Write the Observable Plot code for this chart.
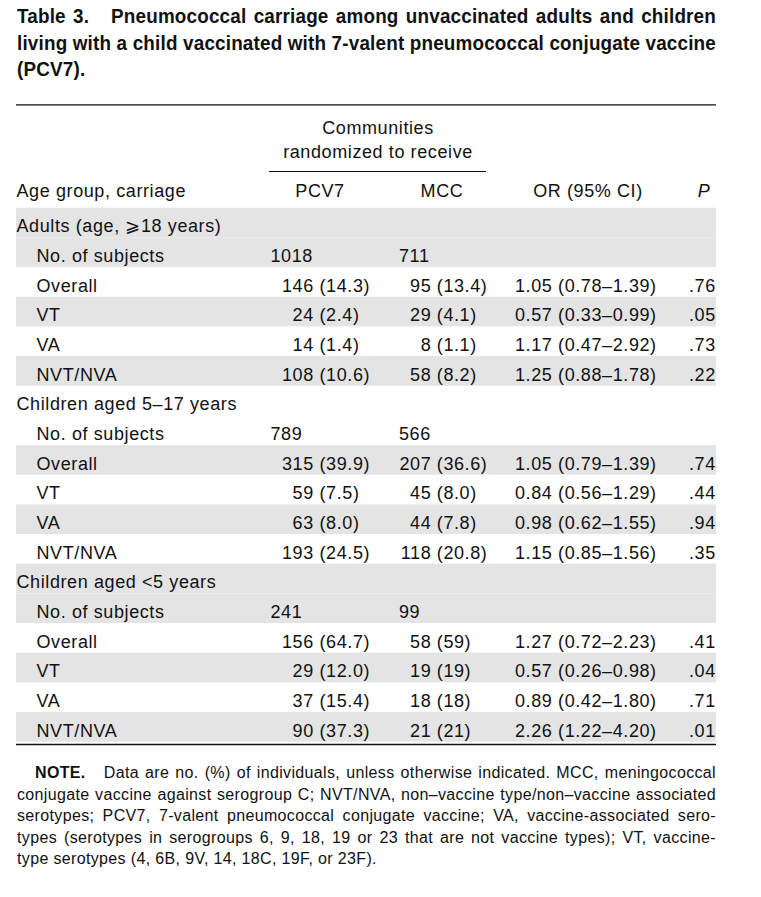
<!DOCTYPE html>
<html>
<head>
<meta charset="utf-8">
<script src="https://cdn.jsdelivr.net/npm/d3@7"></script>
<script src="https://cdn.jsdelivr.net/npm/@observablehq/plot@0.6"></script>
<style>
  html, body { margin: 0; padding: 0; background: #fff; }
  body { width: 761px; height: 897px; overflow: hidden; color: #111; }
  #title { box-sizing: border-box; height: 96px; padding: 3px 0 0 17px;
    font-family: "Liberation Sans", Arial, Helvetica, sans-serif;
    font-weight: bold; font-size: 20.5px; line-height: 26.5px; letter-spacing: 0.2px; }
  #title div { white-space: nowrap; transform-origin: 0 0; }
  #note div { width: 699px; white-space: nowrap; }
  .just { text-align: justify; text-align-last: justify; }
  #chart svg { display: block; }
  #note { box-sizing: border-box; padding: 10px 0 0 17px;
    font-family: "Liberation Sans", Arial, sans-serif; font-size: 16px; line-height: 21.5px; letter-spacing: 0.35px; }
  #note .first { text-indent: 18px; }
</style>
</head>
<body>
<div id="title">
  <div class="just"><span>Table 3.&nbsp;&nbsp; Pneumococcal carriage among unvaccinated adults and children</span></div>
  <div class="just"><span id="titleRef">living with a child vaccinated with 7-valent pneumococcal conjugate vaccine</span></div>
  <div><span>(PCV7).</span></div>
</div>
<div id="chart"></div>
<div id="note">
  <div class="just first"><b>NOTE.</b>&nbsp;&nbsp; Data are no. (%) of individuals, unless otherwise indicated. MCC, meningococcal</div>
  <div class="just">conjugate vaccine against serogroup C; NVT/NVA, non–vaccine type/non–vaccine associated</div>
  <div class="just">serotypes; PCV7, 7-valent pneumococcal conjugate vaccine; VA, vaccine-associated sero-</div>
  <div class="just">types (serotypes in serogroups 6, 9, 18, 19 or 23 that are not vaccine types); VT, vaccine-</div>
  <div>type serotypes (4, 6B, 9V, 14, 18C, 19F, or 23F).</div>
</div>
<script>
// ---------- data ----------
const ageGroups = ["Adults (age, ⩾18 years)", "Children aged 5–17 years", "Children aged <5 years"];
const subjectsPCV7 = [1018, 789, 241];
const subjectsMCC = [711, 566, 99];
const carriageTypes = ["Overall", "VT", "VA", "NVT/NVA"];
const pcv7Count = [146, 24, 14, 108, 315, 59, 63, 193, 156, 29, 37, 90];
const pcv7Pct = ["14.3", "2.4", "1.4", "10.6", "39.9", "7.5", "8.0", "24.5", "64.7", "12.0", "15.4", "37.3"];
const mccCount = [95, 29, 8, 58, 207, 45, 44, 118, 58, 19, 18, 21];
const mccPct = ["13.4", "4.1", "1.1", "8.2", "36.6", "8.0", "7.8", "20.8", "59", "19", "18", "21"];
const orEstimate = ["1.05", "0.57", "1.17", "1.25", "1.05", "0.84", "0.98", "1.15", "1.27", "0.57", "0.89", "2.26"];
const orLower = ["0.78", "0.33", "0.47", "0.88", "0.79", "0.56", "0.62", "0.85", "0.72", "0.26", "0.42", "1.22"];
const orUpper = ["1.39", "0.99", "2.92", "1.78", "1.39", "1.29", "1.55", "1.56", "2.23", "0.98", "1.80", "4.20"];
const pValue = [".76", ".05", ".73", ".22", ".74", ".44", ".94", ".35", ".41", ".04", ".71", ".01"];
const spannerLines = ["Communities", "randomized to receive"];
const columnHeaders = ["Age group, carriage", "PCV7", "MCC", "OR (95% CI)", "P"];

// ---------- title fitting: condense the bold title so it spans the table width ----------
(function fitTitle() {
  const target = 699;
  const w = document.getElementById("titleRef").getBoundingClientRect().width;
  const s = Math.min(1, target / w);
  document.querySelectorAll("#title > div").forEach(div => {
    div.style.width = (target / s) + "px";
    div.style.transform = `scaleX(${s})`;
  });
})();

// ---------- layout (pixels / row units) ----------
const col = { left: 16, right: 716, group: 16, item: 36, pcvSubj: 270, mccSubj: 398.5,
  pcvN: 313.3, pcvPct: 319, mccN: 430.8, mccPct: 436.3, or: 514.5, p: 715.3,
  hdrPCV7: 319.5, hdrMCC: 441.5, hdrOR: 642.3, hdrP: 709.8, spanner: 377.5, spanX1: 269, spanX2: 486 };
const hdr = { topRule: -3.485, communities: -2.82, randomized: -1.99, spanRule: -1.237, header: -0.68, bottomRule: 18.077 };
const ink = "#111", shade = "#e4e4e4";

// ---------- table rows ----------
const rows = [];
ageGroups.forEach((g, gi) => {
  rows.push({ label: g, level: 0, stripe: gi * 5 });
  rows.push({ label: "No. of subjects", level: 1, stripe: gi * 5, pcvSubj: subjectsPCV7[gi], mccSubj: subjectsMCC[gi] });
  carriageTypes.forEach((c, k) => {
    const j = gi * 4 + k;
    rows.push({ label: c, level: 1, stripe: gi * 5 + k + 1, data: true,
      pcvN: pcv7Count[j], pcvPct: pcv7Pct[j], mccN: mccCount[j], mccPct: mccPct[j],
      or: `${orEstimate[j]} (${orLower[j]}–${orUpper[j]})`, p: pValue[j] });
  });
});
rows.forEach((r, i) => (r.i = i));
const dataRows = rows.filter(r => r.data);
const subjRows = rows.filter(r => r.pcvSubj != null);
const yc = d => d.i + 0.5;
const T = { fontSize: 18, fill: ink, dy: 3.5 };

const chart = Plot.plot({
  width: 761, height: 656,
  marginTop: 111.7, marginBottom: 10.3, marginLeft: 16, marginRight: 45,
  x: { domain: [16, 716], axis: null },
  y: { domain: [0, 18], reverse: true, axis: null },
  style: "font-family: 'Liberation Sans', Arial, Helvetica, sans-serif; font-size: 18px; letter-spacing: 0.6px; color: #111; background: #fff; overflow: visible;",
  marks: [
    Plot.rect(rows.filter(r => r.stripe % 2 === 0), { x1: col.left, x2: col.right, y1: "i", y2: d => d.i + 1, fill: shade }),
    Plot.ruleY([hdr.topRule, hdr.bottomRule], { x1: col.left, x2: col.right, stroke: ink, strokeWidth: 1.3 }),
    Plot.ruleY([hdr.spanRule], { x1: col.spanX1, x2: col.spanX2, stroke: ink, strokeWidth: 1.2 }),
    // header
    Plot.text([spannerLines[0]], { ...T, x: col.spanner, y: hdr.communities, text: d => d, textAnchor: "middle" }),
    Plot.text([spannerLines[1]], { ...T, x: col.spanner, y: hdr.randomized, text: d => d, textAnchor: "middle" }),
    Plot.text([columnHeaders[0]], { ...T, x: col.group, y: hdr.header, text: d => d, textAnchor: "start" }),
    Plot.text([columnHeaders[1], columnHeaders[2]], { ...T, x: (d, i) => [col.hdrPCV7, col.hdrMCC][i], y: hdr.header, text: d => d, textAnchor: "middle" }),
    Plot.text([columnHeaders[3]], { ...T, x: col.hdrOR, y: hdr.header, text: d => d, textAnchor: "end" }),
    Plot.text([columnHeaders[4]], { ...T, x: col.hdrP, y: hdr.header, text: d => d, textAnchor: "end", fontStyle: "italic" }),
    // row labels
    Plot.text(rows.filter(r => r.level === 0), { ...T, x: col.group, y: yc, text: "label", textAnchor: "start" }),
    Plot.text(rows.filter(r => r.level === 1), { ...T, x: col.item, y: yc, text: "label", textAnchor: "start" }),
    // subjects
    Plot.text(subjRows, { ...T, x: col.pcvSubj, y: yc, text: d => String(d.pcvSubj), textAnchor: "start" }),
    Plot.text(subjRows, { ...T, x: col.mccSubj, y: yc, text: d => String(d.mccSubj), textAnchor: "start" }),
    // counts and percents
    Plot.text(dataRows, { ...T, x: col.pcvN, y: yc, text: d => String(d.pcvN), textAnchor: "end" }),
    Plot.text(dataRows, { ...T, x: col.pcvPct, y: yc, text: d => `(${d.pcvPct})`, textAnchor: "start" }),
    Plot.text(dataRows, { ...T, x: col.mccN, y: yc, text: d => String(d.mccN), textAnchor: "end" }),
    Plot.text(dataRows, { ...T, x: col.mccPct, y: yc, text: d => `(${d.mccPct})`, textAnchor: "start" }),
    Plot.text(dataRows, { ...T, x: col.or, y: yc, text: "or", textAnchor: "start" }),
    Plot.text(dataRows, { ...T, x: col.p, y: yc, text: "p", textAnchor: "end" })
  ]
});
document.getElementById("chart").appendChild(chart);
</script>
</body>
</html>
